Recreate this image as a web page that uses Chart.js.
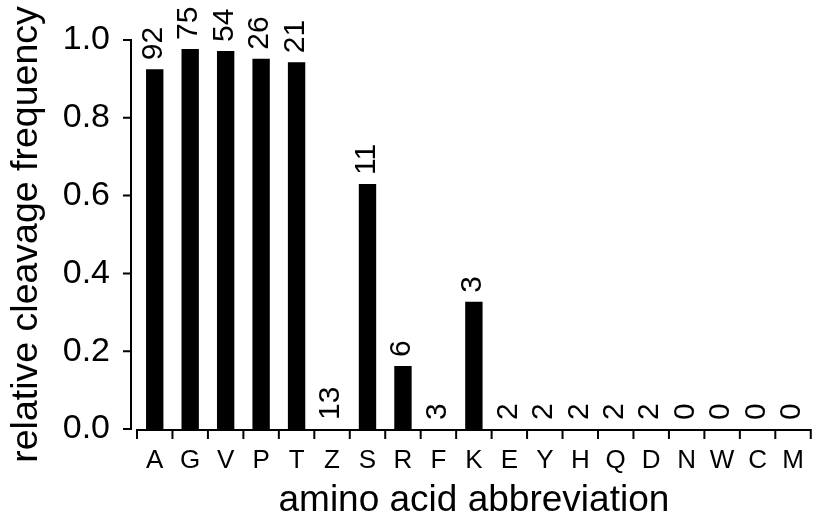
<!DOCTYPE html>
<html>
<head>
<meta charset="utf-8">
<script src="https://cdn.jsdelivr.net/npm/chart.js@4"></script>
<style>
  html, body { margin: 0; padding: 0; background: #fff; }
  #wrap { width: 820px; height: 519px; }
</style>
</head>
<body>
<div id="wrap"><canvas id="chart-cleavage" width="820" height="519"></canvas></div>
<script>
// amino acids, relative cleavage frequency, number of sites (label above bar)
const aminoacidos = ['A','G','V','P','T','Z','S','R','F','K','E','Y','H','Q','D','N','W','C','M'];
const frecuencia  = [0.925, 0.977, 0.972, 0.952, 0.943, 0, 0.630, 0.162, 0, 0.327, 0, 0, 0, 0, 0, 0, 0, 0, 0];
const sitios      = [92, 75, 54, 26, 21, 13, 11, 6, 3, 3, 2, 2, 2, 2, 2, 0, 0, 0, 0];
const yTicks      = [0, 0.2, 0.4, 0.6, 0.8, 1.0];

const FONT = '"Liberation Sans", Arial, Helvetica, sans-serif';
Chart.defaults.font.family = FONT;
Chart.defaults.color = '#000';

// ejes tipo R: separados, con marcas
const ejesPlugin = {
  id: 'ejes',
  afterDraw(chart) {
    const { ctx, chartArea, scales: { x, y } } = chart;
    ctx.save();
    ctx.strokeStyle = '#000';
    ctx.lineWidth = 2;
    ctx.lineCap = 'butt';
    // eje y
    const yx = chartArea.left - 6;
    ctx.beginPath();
    ctx.moveTo(yx, y.getPixelForValue(1) - 1);
    ctx.lineTo(yx, y.getPixelForValue(0) + 1);
    yTicks.forEach(v => {
      const py = y.getPixelForValue(v);
      ctx.moveTo(yx - 8, py);
      ctx.lineTo(yx, py);
    });
    ctx.stroke();
    // eje x
    const xy = chartArea.bottom + 1;
    const w = (chartArea.right - chartArea.left) / aminoacidos.length;
    ctx.beginPath();
    ctx.moveTo(chartArea.left, xy);
    ctx.lineTo(chartArea.right, xy);
    for (let i = 0; i <= aminoacidos.length; i++) {
      const px = chartArea.left + i * w;
      ctx.moveTo(px, xy - 1);
      ctx.lineTo(px, xy + 9);
    }
    ctx.stroke();
    ctx.restore();
  }
};

// números sobre cada barra, girados
const etiquetasPlugin = {
  id: 'etiquetas',
  afterDatasetsDraw(chart) {
    const { ctx } = chart;
    const meta = chart.getDatasetMeta(0);
    ctx.save();
    ctx.fillStyle = '#000';
    ctx.font = '30px ' + FONT;
    ctx.textAlign = 'left';
    ctx.textBaseline = 'middle';
    meta.data.forEach((bar, i) => {
      ctx.save();
      ctx.translate(bar.x - 1, bar.y - 9);
      ctx.rotate(-Math.PI / 2);
      ctx.fillText(String(sitios[i]), 0, 0);
      ctx.restore();
    });
    ctx.restore();
  }
};

new Chart(document.getElementById('chart-cleavage'), {
  type: 'bar',
  data: {
    labels: aminoacidos,
    datasets: [{
      data: frecuencia,
      backgroundColor: '#000',
      borderWidth: 0,
      barPercentage: 0.49,
      categoryPercentage: 1
    }]
  },
  options: {
    responsive: false,
    animation: false,
    layout: { padding: { top: 40, right: 5, left: 0, bottom: 0 } },
    plugins: { legend: { display: false }, tooltip: { enabled: false } },
    scales: {
      x: {
        grid: { display: false, drawTicks: false },
        border: { display: false },
        ticks: { font: { size: 26 }, padding: 16, maxRotation: 0, autoSkip: false },
        title: { display: true, text: 'amino acid abbreviation', font: { size: 37, lineHeight: 1 }, padding: { top: 0, bottom: 0 } },
        afterFit: s => { s.height = 90; }
      },
      y: {
        min: 0, max: 1,
        grid: { display: false, drawTicks: false },
        border: { display: false },
        afterBuildTicks: s => { s.ticks = yTicks.map(v => ({ value: v })); },
        ticks: { font: { size: 34 }, padding: 27, callback: v => Number(v).toFixed(1) },
        title: { display: true, text: 'relative cleavage frequency', font: { size: 37.5 }, padding: { top: 4, bottom: 4 } },
        afterFit: s => { s.width = 137; s.paddingTop = 0; s.paddingBottom = 0; }
      }
    }
  },
  plugins: [ejesPlugin, etiquetasPlugin]
});
</script>
</body>
</html>
